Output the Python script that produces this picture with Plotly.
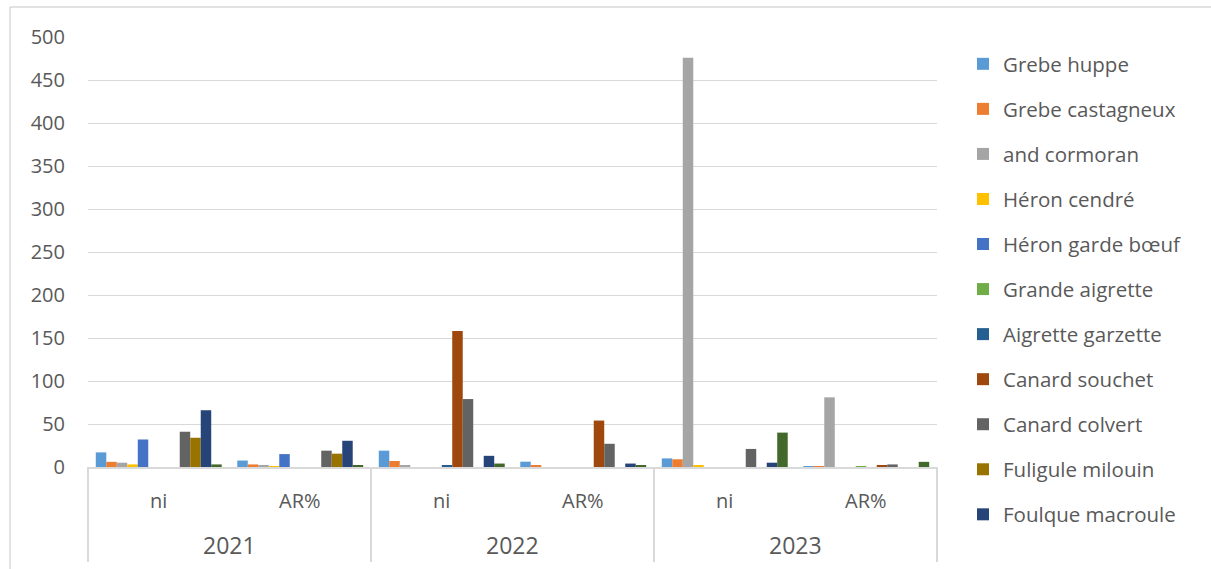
import plotly.graph_objects as go

years = ["2021", "2021", "2022", "2022", "2023", "2023"]
measures = ["ni", "AR%", "ni", "AR%", "ni", "AR%"]
year_labels = ["2021", "2022", "2023"]

series_names = [
    "Grebe huppe", "Grebe castagneux", "and cormoran", "Héron cendré",
    "Héron garde bœuf", "Grande aigrette", "Aigrette garzette",
    "Canard souchet", "Canard colvert", "Fuligule milouin",
    "Foulque macroule", "Série 12",
]

grebe_huppe = [17, 7.5, 19, 6.2, 10, 1]
grebe_castagneux = [6, 3, 7, 2, 9, 1]
cormoran = [5, 1.5, 1.5, 0, 476, 81]
heron_cendre = [3, 0.8, 0, 0, 2, 0]
heron_garde_boeuf = [32, 15, 0, 0, 0, 0]
grande_aigrette = [0, 0, 0, 0, 0, 0.5]
aigrette_garzette = [0, 0, 1.5, 0, 0, 0]
canard_souchet = [0, 0, 158, 54, 0, 1.5]
canard_colvert = [41, 19, 79, 27, 21, 3]
fuligule_milouin = [34, 15.5, 0, 0, 0, 0]
foulque_macroule = [66, 30.5, 13, 4, 5, 0]
serie_12 = [3, 1.5, 4, 1.5, 40, 6]

all_values = [
    grebe_huppe, grebe_castagneux, cormoran, heron_cendre, heron_garde_boeuf,
    grande_aigrette, aigrette_garzette, canard_souchet, canard_colvert,
    fuligule_milouin, foulque_macroule, serie_12,
]

colors = [
    "#5B9BD5", "#ED7D31", "#A5A5A5", "#FFC000", "#4472C4", "#70AD47",
    "#255E91", "#9E480E", "#636363", "#997300", "#264478", "#43682B",
]

y_ticks = [0, 50, 100, 150, 200, 250, 300, 350, 400, 450, 500]

FONT = "Open Sans, Liberation Sans, sans-serif"
GREY_TXT = "#595959"
GRID = "#D9D9D9"

fig = go.Figure()
for i, (name, vals, col) in enumerate(zip(series_names, all_values, colors)):
    fig.add_trace(go.Bar(
        x=[years, measures], y=vals, name=name,
        marker=dict(color=col, line=dict(width=0)),
        legendgroup=name, showlegend=(i < 11),
    ))

W, H = 1211, 569
PX0, PX1, PY0, PY1 = 88, 937, 37, 467  # plot area in pixels
PW, PH = PX1 - PX0, PY1 - PY0


def px_x(p):
    return (p - PX0) / PW


def px_y(p):
    return (PY1 - p) / PH


n_cat = len(measures)
annotations = []
for i, m in enumerate(measures):
    annotations.append(dict(
        text=m, xref="paper", yref="paper", x=(i + 0.5) / n_cat, y=px_y(500),
        xanchor="center", yanchor="middle", showarrow=False,
        font=dict(size=20, color=GREY_TXT, family=FONT),
    ))
for j, yl in enumerate(year_labels):
    annotations.append(dict(
        text=yl, xref="paper", yref="paper",
        x=(2 * j + 1) / n_cat, y=px_y(545),
        xanchor="center", yanchor="middle", showarrow=False,
        font=dict(size=23, color=GREY_TXT, family=FONT),
    ))

shapes = [
    dict(type="line", xref="paper", yref="paper",
         x0=px_x(10), x1=px_x(1211), y0=px_y(7), y1=px_y(7),
         line=dict(color=GRID, width=1.5)),
    dict(type="line", xref="paper", yref="paper",
         x0=px_x(10), x1=px_x(10), y0=px_y(7), y1=px_y(575),
         line=dict(color=GRID, width=1.5)),
]
for k in range(len(year_labels) + 1):
    xp = k / len(year_labels)
    shapes.append(dict(type="line", xref="paper", yref="paper",
                       x0=xp, x1=xp, y0=0, y1=px_y(562),
                       line=dict(color=GRID, width=2)))

fig.update_layout(
    width=W, height=H,
    margin=dict(l=PX0, r=W - PX1, t=PY0, b=H - PY1, pad=0),
    paper_bgcolor="white", plot_bgcolor="white",
    barmode="group", bargap=0.11, bargroupgap=0,
    font=dict(family=FONT, color=GREY_TXT, size=20),
    legend=dict(
        x=px_x(963), xanchor="left",
        y=px_y(44), yanchor="top",
        font=dict(size=20.5, color=GREY_TXT, family=FONT),
        tracegroupgap=15.4, itemwidth=30, maxheight=560,
        bgcolor="rgba(0,0,0,0)",
    ),
    xaxis=dict(
        type="multicategory",
        showgrid=False, showline=True, linecolor=GRID, linewidth=2,
        showticklabels=False, ticks="",
    ),
    yaxis=dict(
        range=[0, 500], tickvals=y_ticks, showgrid=True, gridcolor=GRID,
        gridwidth=1, zeroline=False, showline=False,
        tickfont=dict(size=20, color=GREY_TXT, family=FONT),
        ticklabelstandoff=22,
    ),
    shapes=shapes,
    annotations=annotations,
)

fig.write_html("out.html")
